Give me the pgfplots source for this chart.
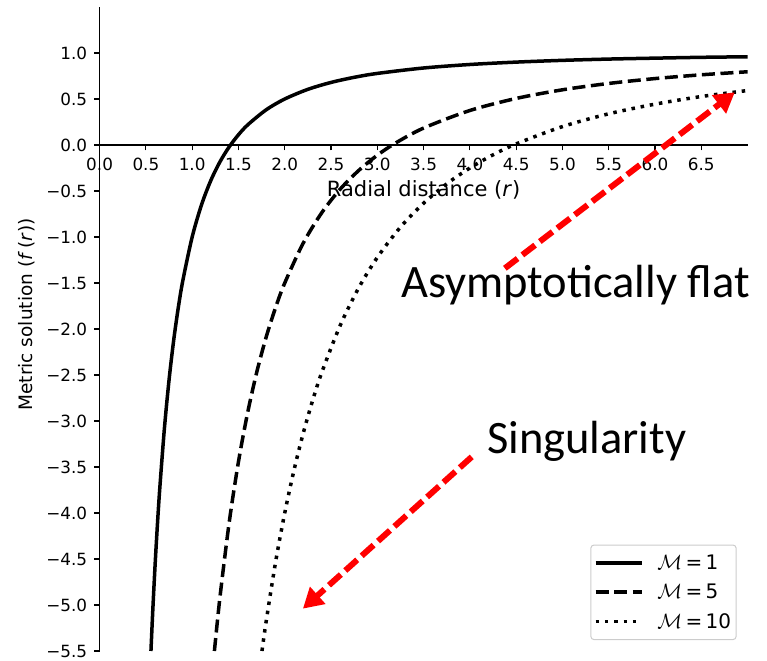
\documentclass[border=0pt]{standalone}
\usepackage{fontspec}
\setmainfont{DejaVu Sans}
\newfontfamily\carlito{Carlito}
\usepackage{pgfplots}
\pgfplotsset{compat=1.18}
\usetikzlibrary{arrows.meta}
\begin{document}
\begin{tikzpicture}
\begin{axis}[
  at={(0,0)}, anchor=south west,
  scale only axis, width=648bp, height=644bp,
  xmin=0, xmax=7, ymin=-5.5, ymax=1.5,
  axis lines=middle,
  axis line style={-, line width=1.2bp, black},
  hide obscured x ticks=false, hide obscured y ticks=false,
  tick align=outside,
  major tick length=5.3bp,
  tick style={line width=1.2bp, black},
  xtick={0,0.5,1,1.5,2,2.5,3,3.5,4,4.5,5,5.5,6,6.5},
  xticklabels={0.0,0.5,1.0,1.5,2.0,2.5,3.0,3.5,4.0,4.5,5.0,5.5,6.0,6.5},
  ytick={-5.5,-5,-4.5,-4,-3.5,-3,-2.5,-2,-1.5,-1,-0.5,0,0.5,1},
  yticklabels={−5.5,−5.0,−4.5,−4.0,−3.5,−3.0,−2.5,−2.0,−1.5,−1.0,−0.5,0.0,0.5,1.0},
  ticklabel style={font=\fontsize{16.8bp}{20bp}\selectfont, inner sep=0pt},
  xticklabel style={anchor=north},
  yticklabel style={anchor=east},
  xticklabel shift=8bp,
  yticklabel shift=7bp,
  xlabel={Radial distance (\textit{r})},
  ylabel={Metric solution (\textit{f}\,(\textit{r}))},
  xlabel style={font=\fontsize{21bp}{24bp}\selectfont, inner sep=0pt,
    at={(axis description cs:0.5,0.706)}, anchor=base},
  ylabel style={font=\fontsize{18.5bp}{22bp}\selectfont, inner sep=0pt,
    at={(axis description cs:-0.103,0.5225)}, anchor=base, rotate=90},
  clip=false,
  legend style={at={(axis description cs:0.983,0.017)}, anchor=south east,
    draw=black!20, line width=1bp, rounded corners=3bp, fill=white,
    font=\fontsize{20bp}{24bp}\selectfont,
    inner xsep=3bp, inner ysep=8bp, row sep=9bp,
    nodes={inner sep=2bp},
    /tikz/every odd column/.append style={column sep=12bp}},
  legend cell align=left,
  legend image code/.code={\draw[#1] (0bp,0bp) -- (46bp,0bp);},
]
\addplot[black, line width=3.5bp, smooth] coordinates {
(0.5547,-5.5) (0.575,-5.049) (0.6,-4.556) (0.625,-4.12) (0.65,-3.734) (0.7,-3.082)
(0.75,-2.556) (0.8,-2.125) (0.85,-1.768) (0.9,-1.469) (1.0,-1) (1.1,-0.653)
(1.2,-0.389) (1.3,-0.183) (1.4,-0.020) (1.5,0.111) (1.6,0.219) (1.8,0.383)
(2.0,0.5) (2.25,0.605) (2.5,0.68) (2.75,0.7355) (3.0,0.778) (3.5,0.837)
(4.0,0.875) (4.5,0.901) (5.0,0.92) (5.5,0.934) (6.0,0.944) (6.5,0.953) (7.0,0.959)
};
\addlegendentry{$\mathcal{M}$\,=\,1}
\addplot[black, line width=3.5bp, smooth, dash pattern=on 13bp off 5.6bp] coordinates {
(1.2403,-5.5) (1.3,-4.917) (1.4,-4.102) (1.5,-3.444) (1.6,-2.906) (1.7,-2.460)
(1.8,-2.086) (1.9,-1.770) (2.0,-1.5) (2.2,-1.066) (2.4,-0.736) (2.6,-0.479)
(2.8,-0.276) (3.0,-0.111) (3.2,0.023) (3.5,0.184) (4.0,0.375) (4.5,0.506)
(5.0,0.6) (5.5,0.669) (6.0,0.722) (6.5,0.763) (7.0,0.796)
};
\addlegendentry{$\mathcal{M}$\,=\,5}
\addplot[black, line width=3.5bp, smooth, dash pattern=on 3.5bp off 5.8bp] coordinates {
(1.7541,-5.5) (1.8,-5.173) (1.9,-4.540) (2.0,-4) (2.1,-3.535) (2.2,-3.132)
(2.3,-2.781) (2.4,-2.472) (2.6,-1.959) (2.8,-1.551) (3.0,-1.222) (3.25,-0.893)
(3.5,-0.633) (3.75,-0.422) (4.0,-0.25) (4.25,-0.107) (4.5,0.012) (5.0,0.2)
(5.5,0.339) (6.0,0.444) (6.5,0.527) (7.0,0.592)
};
\addlegendentry{$\mathcal{M}$\,=\,10}
\draw[red, line width=6bp, dash pattern=on 16bp off 6bp, -{Triangle[length=20bp,width=22bp]}]
  (axis cs:4.378,-1.34) -- (axis cs:6.862,0.573);
\draw[red, line width=6bp, dash pattern=on 16bp off 6bp, -{Triangle[length=20bp,width=22bp]}]
  (axis cs:4.02,-3.39) -- (axis cs:2.196,-5.04);
\node[anchor=base west, inner sep=0pt, font=\carlito\fontsize{46.5bp}{50bp}\selectfont]
  at (axis cs:3.255,-1.655) {Asymptotically flat};
\node[anchor=base west, inner sep=0pt, font=\carlito\fontsize{46.5bp}{50bp}\selectfont]
  at (axis cs:4.184,-3.351) {Singularity};
\end{axis}
\pgfresetboundingbox
\path[use as bounding box] (-99.6bp,-10bp) rectangle (667.4bp,651bp);
\end{tikzpicture}
\end{document}
